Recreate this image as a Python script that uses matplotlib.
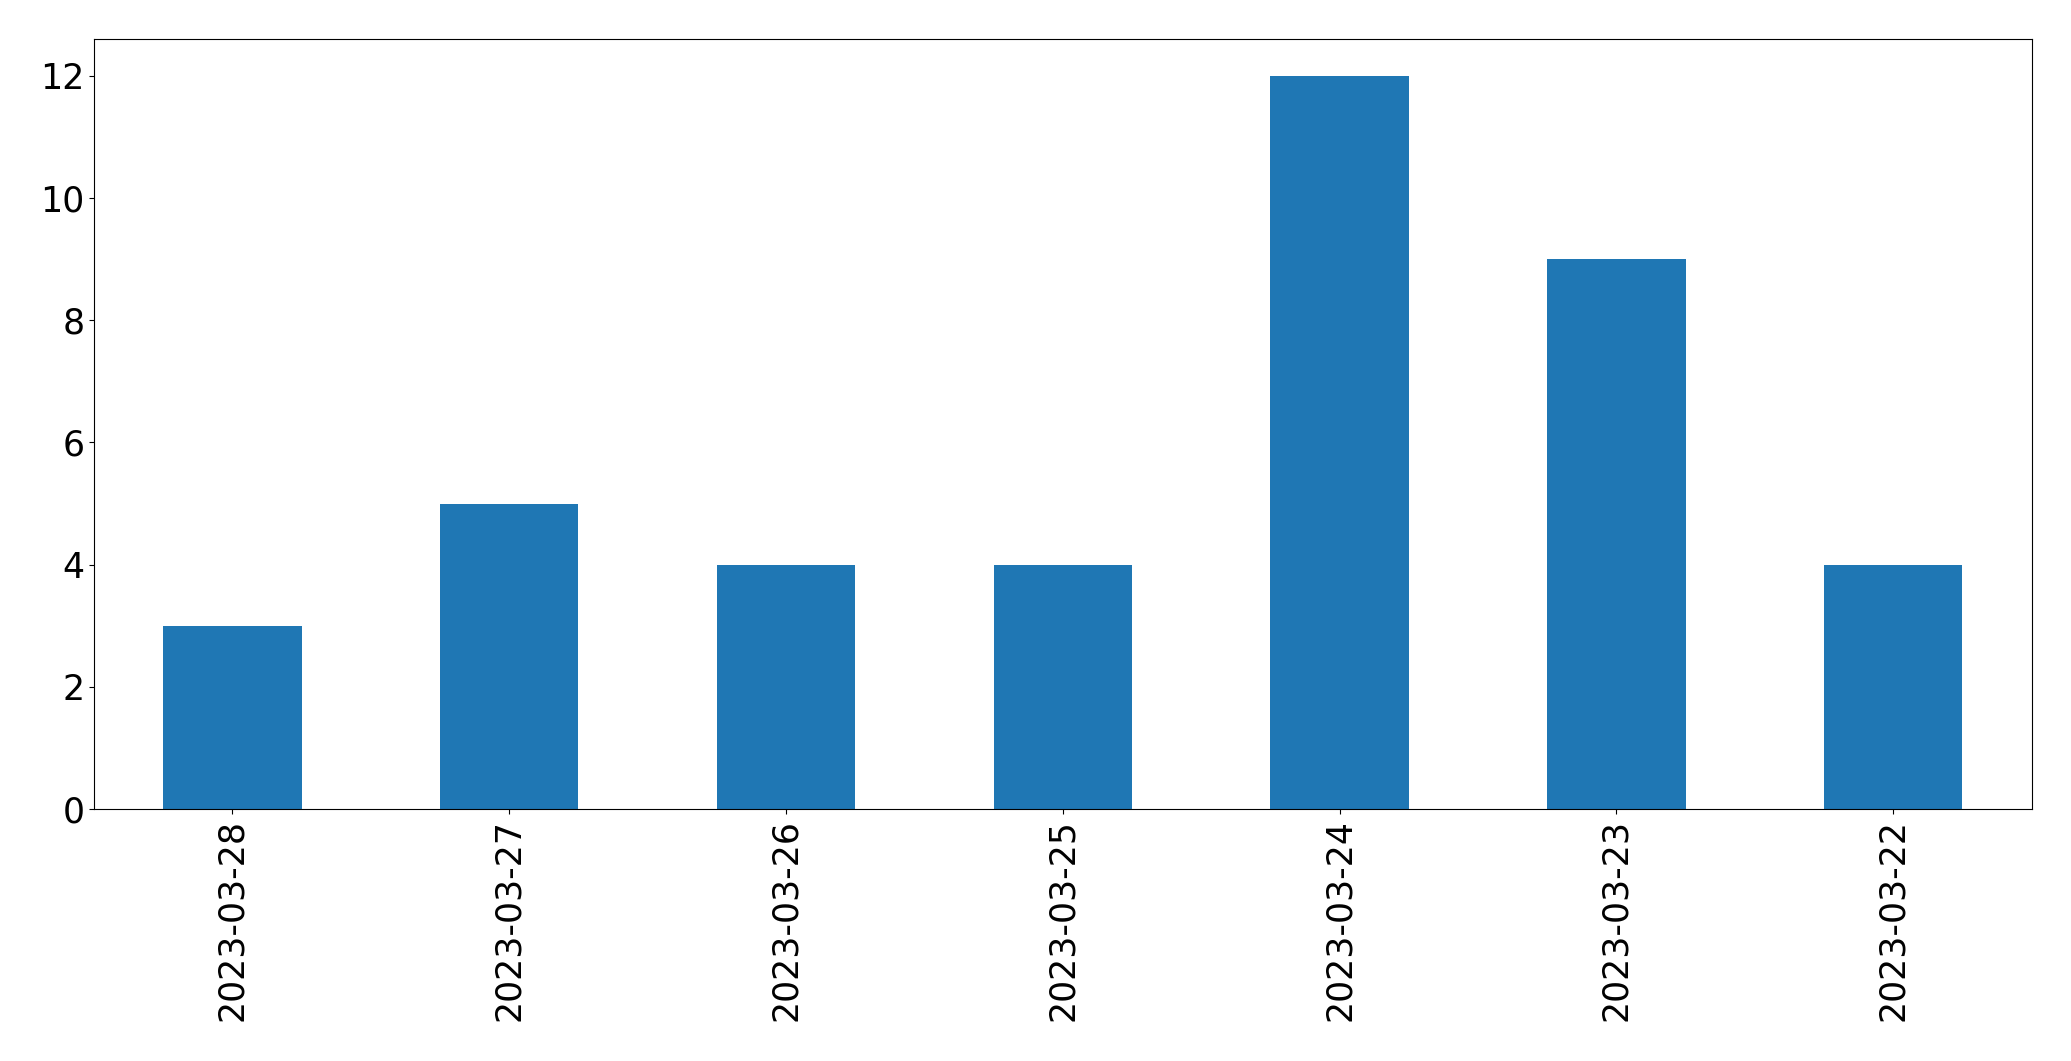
import matplotlib
matplotlib.use("Agg")
import matplotlib.pyplot as plt

dates = ["2023-03-28", "2023-03-27", "2023-03-26", "2023-03-25",
         "2023-03-24", "2023-03-23", "2023-03-22"]
counts = [3, 5, 4, 4, 12, 9, 4]

fig = plt.figure(figsize=(20.71, 10.61), dpi=100)
ax = fig.add_axes([0.0454, 0.2375, 0.9356, 0.7255])
x = list(range(len(dates)))
ax.bar(x, counts, width=0.5, color="#1f77b4")
ax.set_xticks(x)
ax.set_xticklabels(dates, rotation=90)
ax.set_xlim(-0.5, len(dates) - 0.5)
ax.set_ylim(0, 12.6)
ax.tick_params(labelsize=25)
fig.savefig("out.png", dpi=100)
